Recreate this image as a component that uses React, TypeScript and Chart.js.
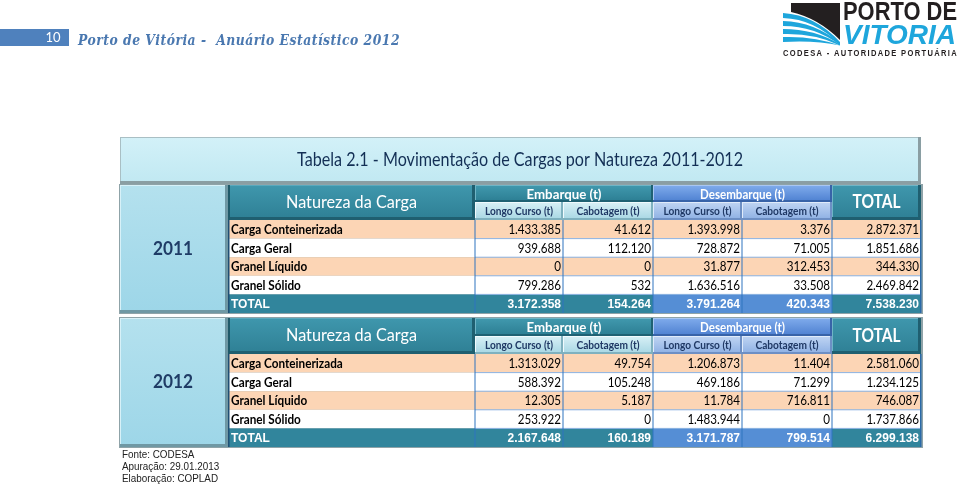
import React, { useEffect, useRef } from "react";
import { Chart, registerables } from "chart.js";

Chart.register(...registerables);

// ---------- data ----------
const pageNumber = "10";
const pageTitle = "Porto de Vitória -  Anuário Estatístico 2012";
const tableTitle = "Tabela 2.1 - Movimentação de Cargas por Natureza 2011-2012";
const years = ["2011", "2012"];
const categories = ["Carga Conteinerizada", "Carga Geral", "Granel Líquido", "Granel Sólido"];
const totalLabel = "TOTAL";
const headNatureza = "Natureza da Carga";
const groupLabels = ["Embarque (t)", "Desembarque (t)"];
const subLabels = ["Longo Curso (t)", "Cabotagem (t)"];
const totalHeader = "TOTAL";

const embLongo2011 = [1433385, 939688, 0, 799286];
const embCab2011 = [41612, 112120, 0, 532];
const desLongo2011 = [1393998, 728872, 31877, 1636516];
const desCab2011 = [3376, 71005, 312453, 33508];
const total2011 = [2872371, 1851686, 344330, 2469842];
const totals2011 = [3172358, 154264, 3791264, 420343, 7538230];

const embLongo2012 = [1313029, 588392, 12305, 253922];
const embCab2012 = [49754, 105248, 5187, 0];
const desLongo2012 = [1206873, 469186, 11784, 1483944];
const desCab2012 = [11404, 71299, 716811, 0];
const total2012 = [2581060, 1234125, 746087, 1737866];
const totals2012 = [2167648, 160189, 3171787, 799514, 6299138];

const footer = ["Fonte: CODESA", "Apuração: 29.01.2013", "Elaboração: COPLAD"];
const logoTop = "PORTO DE";
const logoMid = "VITORIA";
const logoBottom = "CODESA - AUTORIDADE PORTUÁRIA";

const sections = [
  { year: years[0], cols: [embLongo2011, embCab2011, desLongo2011, desCab2011, total2011], totals: totals2011 },
  { year: years[1], cols: [embLongo2012, embCab2012, desLongo2012, desCab2012, total2012], totals: totals2012 },
];

// ---------- layout (positions in page units) ----------
const COLS = [228, 475, 563, 653, 742, 832, 921];
const SECT = [
  { top: 185, groupBottom: 202, headBottom: 220, rowH: 18.6 },
  { top: 318, groupBottom: 336, headBottom: 354, rowH: 18.6 },
];

const fmt = (n: number) => String(n).replace(/\B(?=(\d{3})+(?!\d))/g, ".");

function txt(ctx: CanvasRenderingContext2D, s: string, x: number, y: number, font: string, color: string, align: CanvasTextAlign, sq = 1) {
  ctx.font = font;
  ctx.fillStyle = color;
  ctx.textAlign = align;
  ctx.textBaseline = "middle";
  const w = ctx.measureText(s).width;
  ctx.fillText(s, x, y, w * sq);
}

function txtW(ctx: CanvasRenderingContext2D, s: string, x: number, y: number, font: string, color: string, align: CanvasTextAlign, maxW: number) {
  ctx.font = font;
  ctx.fillStyle = color;
  ctx.textAlign = align;
  ctx.textBaseline = "middle";
  ctx.fillText(s, x, y, maxW);
}

function box(ctx: CanvasRenderingContext2D, x0: number, y0: number, x1: number, y1: number, c1: string, c2: string, light: string, dark: string, dw = 2) {
  const g = ctx.createLinearGradient(0, y0, 0, y1);
  g.addColorStop(0, c1);
  g.addColorStop(1, c2);
  ctx.fillStyle = g;
  ctx.fillRect(x0, y0, x1 - x0, y1 - y0);
  ctx.fillStyle = light;
  ctx.fillRect(x0, y0, x1 - x0, 1);
  ctx.fillRect(x0, y0, 1, y1 - y0);
  ctx.fillStyle = dark;
  ctx.fillRect(x0, y1 - dw, x1 - x0, dw);
  ctx.fillRect(x1 - dw, y0, dw, y1 - y0);
}

const tablePlugin = {
  id: "tableDraw",
  beforeDraw(chart: any) {
    const ctx = chart.ctx as CanvasRenderingContext2D;
    ctx.save();
    ctx.fillStyle = "#ffffff";
    ctx.fillRect(0, 0, chart.width, chart.height);
    ctx.restore();
  },
  afterDraw(chart: any) {
    const ctx = chart.ctx as CanvasRenderingContext2D;
    const xs = chart.scales.x;
    const ys = chart.scales.y;
    const X = (v: number) => xs.getPixelForValue(v);
    const Y = (v: number) => ys.getPixelForValue(v);
    ctx.save();

    // page header
    ctx.fillStyle = "#4f81bd";
    ctx.fillRect(X(0), Y(29), X(69) - X(0), Y(46) - Y(29));
    txt(ctx, pageNumber, X(53), Y(38), "13px Lato", "#ffffff", "center");
    (ctx as any).letterSpacing = "0.6px";
    txtW(ctx, pageTitle, X(78), Y(41), "italic bold 15px 'DejaVu Serif'", "#4a78b0", "left", 322);
    (ctx as any).letterSpacing = "0px";

    // logo
    ctx.fillStyle = "#231f20";
    ctx.beginPath();
    ctx.moveTo(X(791), Y(3));
    ctx.lineTo(X(840), Y(3));
    ctx.lineTo(X(840), Y(40));
    ctx.quadraticCurveTo(X(818), Y(18), X(791), Y(12));
    ctx.closePath();
    ctx.fill();
    ctx.fillStyle = "#1ea6dc";
    for (let i = 0; i < 4; i++) {
      const y0 = 13 + i * 8;
      ctx.beginPath();
      ctx.moveTo(X(783), Y(y0));
      ctx.quadraticCurveTo(X(815), Y(y0 + 2 - i), X(840), Y(42 + i * 1.2));
      ctx.lineTo(X(840), Y(45 + i * 0.2));
      ctx.quadraticCurveTo(X(815), Y(y0 + 6 - i), X(783), Y(y0 + 5));
      ctx.closePath();
      ctx.fill();
    }
    txtW(ctx, logoTop, X(843), Y(13), "bold 26px 'Liberation Sans'", "#231f20", "left", 114);
    txtW(ctx, logoMid, X(843), Y(36), "italic bold 28px 'Liberation Sans'", "#1ea6dc", "left", 114);
    (ctx as any).letterSpacing = "1.6px";
    txtW(ctx, logoBottom, X(783), Y(54), "bold 9px 'Liberation Sans'", "#231f20", "left", 175);
    (ctx as any).letterSpacing = "0px";

    // title panel
    box(ctx, X(120), Y(137), X(921), Y(184), "#d3f1f8", "#c0e8f2", "#a9bfc4", "#8a9ea3", 3);
    txtW(ctx, tableTitle, X(520), Y(160), "19px Lato", "#132f55", "center", 446);

    sections.forEach((sec, si) => {
      const L = SECT[si];
      const rowsTop = L.headBottom;
      const bottom = rowsTop + L.rowH * 5;
      // outer frame
      ctx.fillStyle = "#8fa3a8";
      ctx.fillRect(X(119), Y(L.top - 1), X(923) - X(119), Y(bottom + 1) - Y(L.top - 1));
      // year box
      box(ctx, X(120), Y(L.top), X(228), Y(bottom), "#b4e1ee", "#9dd6e8", "#d7f1f8", "#6f98a4", 3);
      txtW(ctx, sec.year, X(173), Y((L.top + bottom) / 2), "bold 18px Lato", "#1f3c66", "center", 40);

      // natureza header
      box(ctx, X(COLS[0]), Y(L.top), X(COLS[1]), Y(L.headBottom), "#3f97ad", "#2e7f94", "#5aa9bd", "#1f5f70", 3);
      ctx.fillStyle = "#1f5a6a";
      ctx.fillRect(X(COLS[0]), Y(L.top), 2, Y(L.headBottom) - Y(L.top));
      txtW(ctx, headNatureza, X((COLS[0] + COLS[1]) / 2), Y((L.top + L.headBottom) / 2), "17px Lato", "#ffffff", "center", 131);

      // group headers
      const groups = [
        { x0: COLS[1], x1: COLS[3], c1: "#4199ae", c2: "#2b7d92", l: "#6fb5c6", d: "#1f6173", s1: "#d8f0f6", s2: "#a6d6e3", sl: "#f0fafd", sd: "#7fb1bf" },
        { x0: COLS[3], x1: COLS[5], c1: "#80acec", c2: "#4c7fd0", l: "#a8c6f2", d: "#3863a8", s1: "#c0d5f3", s2: "#8cafe3", sl: "#e0ebfa", sd: "#6d8fc4" },
      ];
      const groupW = [75, 85];
      const subW = [68, 63];
      groups.forEach((g, gi) => {
        box(ctx, X(g.x0), Y(L.top), X(g.x1), Y(L.groupBottom), g.c1, g.c2, g.l, g.d, 2);
        txtW(ctx, groupLabels[gi], X((g.x0 + g.x1) / 2), Y((L.top + L.groupBottom) / 2 + 0.5), "bold 14px Lato", "#ffffff", "center", groupW[gi]);
        const mids = [g.x0, (gi === 0 ? COLS[2] : COLS[4]), g.x1];
        for (let k = 0; k < 2; k++) {
          box(ctx, X(mids[k]), Y(L.groupBottom), X(mids[k + 1]), Y(L.headBottom), g.s1, g.s2, g.sl, g.sd, 2);
          txtW(ctx, subLabels[k], X((mids[k] + mids[k + 1]) / 2), Y((L.groupBottom + L.headBottom) / 2 + 0.5), "bold 11px Lato", "#1f3864", "center", subW[k]);
        }
      });

      // total header
      box(ctx, X(COLS[5]), Y(L.top), X(COLS[6]), Y(L.headBottom), "#3f97ad", "#2e7f94", "#6fb5c6", "#1f5f70", 3);
      txtW(ctx, totalHeader, X((COLS[5] + COLS[6]) / 2), Y((L.top + L.headBottom) / 2), "bold 18px Lato", "#ffffff", "center", 48);

      // data rows
      categories.forEach((cat, ri) => {
        const y0 = rowsTop + ri * L.rowH;
        const y1 = y0 + L.rowH;
        ctx.fillStyle = ri % 2 === 0 ? "#fcd5b5" : "#ffffff";
        ctx.fillRect(X(COLS[0]), Y(y0), X(COLS[6]) - X(COLS[0]), Y(y1) - Y(y0));
        const cy = (y0 + y1) / 2 + 0.5;
        txt(ctx, cat, X(COLS[0] + 3), Y(cy), "bold 13.5px Lato", "#000000", "left", 0.87);
        sec.cols.forEach((col, ci) => {
          txt(ctx, fmt(col[ri]), X(COLS[ci + 2] - 2), Y(cy), "13.5px Lato", "#000000", "right", 0.86);
        });
      });
      // total row
      const ty0 = rowsTop + 4 * L.rowH;
      const ty1 = ty0 + L.rowH;
      ctx.fillStyle = "#31859c";
      ctx.fillRect(X(COLS[0]), Y(ty0), X(COLS[6]) - X(COLS[0]), Y(ty1) - Y(ty0));
      ctx.fillStyle = "#558ed5";
      ctx.fillRect(X(COLS[3]), Y(ty0), X(COLS[5]) - X(COLS[3]), Y(ty1) - Y(ty0));
      const tcy = (ty0 + ty1) / 2 + 0.5;
      txt(ctx, totalLabel, X(COLS[0] + 3), Y(tcy), "bold 12px 'Liberation Sans'", "#ffffff", "left");
      sec.totals.forEach((v, ci) => {
        txt(ctx, fmt(v), X(COLS[ci + 2] - 2), Y(tcy), "bold 12px 'Liberation Sans'", "#ffffff", "right");
      });

      // grid lines
      ctx.fillStyle = "#8eb4e3";
      for (let r = 1; r < 5; r++) {
        const yy = rowsTop + r * L.rowH;
        ctx.fillRect(X(COLS[1]), Y(yy) - 0.5, X(COLS[6]) - X(COLS[1]), 1);
      }
      ctx.fillStyle = "#2e74c0";
      for (let c = 1; c < 6; c++) {
        ctx.fillRect(X(COLS[c]) - 0.5, Y(rowsTop), 1, Y(bottom) - Y(rowsTop));
      }
      ctx.fillStyle = "#2a6aa8";
      ctx.fillRect(X(COLS[6]) - 1, Y(rowsTop), 1.5, Y(bottom) - Y(rowsTop));
      ctx.fillStyle = "#1f4f75";
      ctx.fillRect(X(COLS[0]), Y(rowsTop), 1.5, Y(bottom) - Y(rowsTop));
    });

    // white gap between sections
    ctx.fillStyle = "#ffffff";
    ctx.fillRect(X(119), Y(SECT[0].headBottom + SECT[0].rowH * 5 + 1), X(923) - X(119), 2);

    // footer
    footer.forEach((f, i) => {
      txt(ctx, f, X(122), Y(455 + i * 12), "10.5px 'Liberation Sans'", "#222222", "left", 0.94);
    });

    ctx.restore();
  },
};

export default function App() {
  const ref = useRef<HTMLCanvasElement | null>(null);
  useEffect(() => {
    document.body.style.margin = "0";
    document.body.style.overflow = "hidden";
    const canvas = ref.current;
    if (!canvas) return;
    const chart = new Chart(canvas, {
      type: "scatter",
      data: { datasets: [] },
      options: {
        animation: false,
        responsive: false,
        devicePixelRatio: 1,
        layout: { padding: 0 },
        plugins: { legend: { display: false }, tooltip: { enabled: false }, title: { display: false } },
        scales: {
          x: { type: "linear", min: 0, max: 960, display: false },
          y: { type: "linear", min: 0, max: 487, reverse: true, display: false },
        },
      },
      plugins: [tablePlugin],
    });
    return () => chart.destroy();
  }, []);
  return (
    <div style={{ width: 960, height: 487 }}>
      <canvas ref={ref} width={960} height={487} style={{ display: "block" }} />
    </div>
  );
}
